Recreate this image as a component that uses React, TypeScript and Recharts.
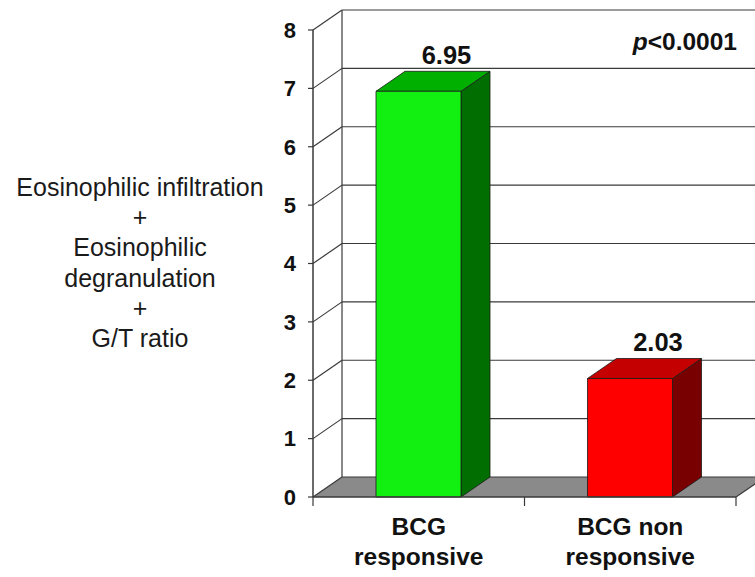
import { BarChart, Bar, XAxis, YAxis, CartesianGrid, LabelList } from "recharts";

const categories = ["BCG responsive", "BCG non responsive"];
const categoryLines = [
  ["BCG", "responsive"],
  ["BCG non", "responsive"],
];
const scores = [6.95, 2.03];
const yTicks = [0, 1, 2, 3, 4, 5, 6, 7, 8];
const yLabelLines = [
  "Eosinophilic infiltration",
  "+",
  "Eosinophilic",
  "degranulation",
  "+",
  "G/T ratio",
];
const pValue = "<0.0001";

const barColors = [
  { front: "#12F012", top: "#00B000", side: "#006E00" },
  { front: "#FF0000", top: "#C40000", side: "#780000" },
];

const data = categories.map((name, i) => ({ name, score: scores[i] }));

const W = 755;
const H = 577;
const margin = { top: 30, right: 19, bottom: 10, left: 253 };
const Y_AXIS_W = 60;
const X_AXIS_H = 70;
const PLOT_LEFT = margin.left + Y_AXIS_W;
const PLOT_RIGHT = W - margin.right;
const PLOT_TOP = margin.top;
const PLOT_BOTTOM = H - margin.bottom - X_AXIS_H;
const BAND = (PLOT_RIGHT - PLOT_LEFT) / categories.length;

// depth of the pseudo-3D box
const DX = 29;
const DY = 20;
const LINE = "#3a3a3a";
const FONT = "Arial, 'Liberation Sans', sans-serif";

// back wall line + connector to the front axis, floor for the zero line
const GridLine = (props: any) => {
  const { x1, y1 } = props;
  const bx = x1 + DX;
  const by = y1 - DY;
  const isFloor = Math.abs(y1 - PLOT_BOTTOM) < 1;
  const isTop = Math.abs(y1 - PLOT_TOP) < 1;
  return (
    <g key={`grid-${y1}`}>
      {isFloor && (
        <polygon
          points={`${PLOT_LEFT},${y1} ${bx},${by} ${W + 40},${by} ${PLOT_RIGHT + DX * 2},${y1 - DY * 2} ${PLOT_RIGHT},${y1}`}
          fill="#8a8a8a"
          stroke="none"
        />
      )}
      {isFloor && (
        <line x1={PLOT_RIGHT} y1={y1} x2={PLOT_RIGHT + DX * 2} y2={y1 - DY * 2} stroke={LINE} strokeWidth={1.2} />
      )}
      {isTop && (
        <line x1={bx} y1={by} x2={bx} y2={PLOT_BOTTOM - DY} stroke={LINE} strokeWidth={1.2} />
      )}
      <line x1={x1} y1={y1} x2={bx} y2={by} stroke={LINE} strokeWidth={1.2} />
      <line x1={bx} y1={by} x2={W} y2={by} stroke={LINE} strokeWidth={1.2} />
    </g>
  );
};

const Bar3D = (props: any) => {
  const { x, y, width, height, index } = props;
  const c = barColors[index % barColors.length];
  const r = x + width;
  const b = y + height;
  return (
    <g stroke="#1a1a1a" strokeWidth={0.8} strokeLinejoin="round">
      <polygon points={`${r},${y} ${r + DX},${y - DY} ${r + DX},${b - DY} ${r},${b}`} fill={c.side} />
      <polygon points={`${x},${y} ${x + DX},${y - DY} ${r + DX},${y - DY} ${r},${y}`} fill={c.top} />
      <rect x={x} y={y} width={width} height={height} fill={c.front} />
    </g>
  );
};

const ValueLabel = (props: any) => {
  const { x, y, width, value } = props;
  return (
    <text
      x={x + width / 2 + DX - 1}
      y={y - DY - 7}
      textAnchor="middle"
      fontFamily={FONT}
      fontSize={25.5}
      fontWeight="bold"
      fill="#111"
    >
      {value.toFixed(2)}
    </text>
  );
};

const CategoryTick = (props: any) => {
  const { x, payload, index } = props;
  const lines = categoryLines[index] ?? [payload.value];
  const edge = x + BAND / 2;
  return (
    <g>
      {index === 0 && <line x1={x - BAND / 2} y1={PLOT_BOTTOM} x2={x - BAND / 2} y2={PLOT_BOTTOM + 9} stroke={LINE} strokeWidth={1.2} />}
      <line x1={edge} y1={PLOT_BOTTOM} x2={edge} y2={PLOT_BOTTOM + 9} stroke={LINE} strokeWidth={1.2} />
      <text textAnchor="middle" fontFamily={FONT} fontSize={24.5} fontWeight="bold" fill="#111">
        {lines.map((t, i) => (
          <tspan key={i} x={x} y={PLOT_BOTTOM + 38 + i * 30}>
            {t}
          </tspan>
        ))}
      </text>
    </g>
  );
};

export default function App() {
  const labelCenter = (PLOT_TOP + PLOT_BOTTOM) / 2;
  const firstBaseline = labelCenter - ((yLabelLines.length - 1) * 30.2) / 2 + 8;
  return (
    <div style={{ position: "absolute", left: 0, top: 0, width: W, height: H, background: "#fff" }}>
      <BarChart width={W} height={H} data={data} margin={margin} barSize={85}>
        <CartesianGrid horizontal={GridLine} vertical={false} />
        <XAxis
          dataKey="name"
          height={X_AXIS_H}
          axisLine={{ stroke: LINE, strokeWidth: 1.5 }}
          tickLine={false}
          tickSize={0}
          tick={<CategoryTick />}
          interval={0}
        />
        <YAxis
          width={Y_AXIS_W}
          domain={[0, 8]}
          ticks={yTicks}
          interval={0}
          axisLine={{ stroke: LINE, strokeWidth: 1.5 }}
          tickLine={{ stroke: LINE, strokeWidth: 1.2 }}
          tickSize={5}
          tickMargin={12}
          tick={{ fill: "#111", fontSize: 22, fontWeight: "bold", fontFamily: FONT }}
        />
        <Bar dataKey="score" shape={<Bar3D />} isAnimationActive={false}>
          <LabelList dataKey="score" content={<ValueLabel />} />
        </Bar>
        <text x={737} y={50} textAnchor="end" fontFamily={FONT} fontSize={24.5} fontWeight="bold" fill="#111">
          <tspan fontStyle="italic">p</tspan>
          {pValue}
        </text>
        <text textAnchor="middle" fontFamily={FONT} fontSize={25} fill="#1a1a1a">
          {yLabelLines.map((t, i) => (
            <tspan key={i} x={140} y={firstBaseline + i * 30.2}>
              {t}
            </tspan>
          ))}
        </text>
      </BarChart>
    </div>
  );
}
